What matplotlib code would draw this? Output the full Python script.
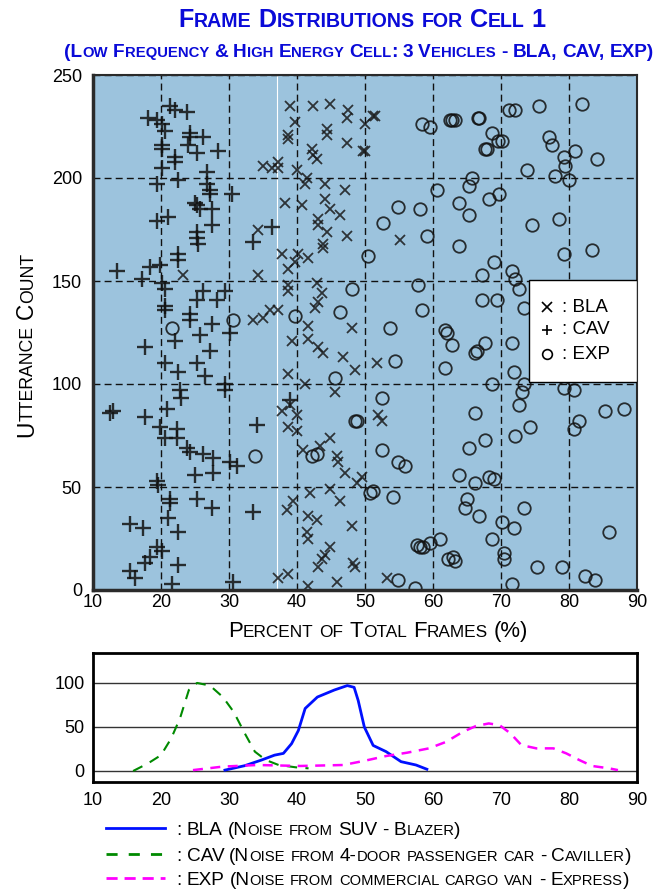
import matplotlib
matplotlib.use('Agg')
import matplotlib.pyplot as plt
from matplotlib import font_manager as fm
from matplotlib.transforms import IdentityTransform
from matplotlib.patches import Rectangle

# ---- data ----
CAV_X = [21.3, 22, 23.8, 18.1, 19.4, 20.1, 20.6, 24.3, 24.3, 26.2, 24, 20.1, 20.1, 25.3, 28.4,
         22.1, 22.1, 20.1, 26.8, 22.5, 19.4, 26.8, 27.2, 27.2, 30.4, 25, 25.3, 25.7, 27.5, 21,
         19.4, 27.5, 25.3, 25.3, 25.5, 33.5, 36.3, 22.5, 22.5, 19.9, 18.4, 13.5, 17.2, 20.1, 20.6,
         26.2, 25.3, 28.2, 29.4, 20.6, 20.6, 24.3, 24.3, 27.5, 22, 25.7, 30.1, 17.6, 20.6,
         22.5, 25.3, 27.2, 26.5, 29.4, 29.4, 22.8, 23, 13, 12.5, 20.9, 17.6, 19.9, 22.4, 20.6,
         22.4, 23.8, 24.3, 26.2, 27.6, 30.1, 31.2, 34.1, 39, 27.6, 25, 19.4, 19.6, 21.3, 21.3,
         25.3, 27.5, 33.5, 21, 15.4, 17.4, 22.5, 19.4, 20.1, 18.4, 17.6, 15.4, 16.2, 22.5, 21.6, 30.6]
CAV_Y = [235, 233, 232, 229, 228, 226, 223, 222, 220, 220, 216, 216, 214, 212, 213,
         210, 208, 205, 203, 199, 197, 197, 194, 192, 192, 188, 187, 185, 185, 181,
         179, 177, 174, 171, 168, 169, 176, 163, 160, 158, 157, 155, 151, 149, 146,
         145, 141, 141, 145, 138, 136, 134, 131, 129, 121, 124, 125, 118, 110,
         106, 110, 116, 104, 100, 97, 97, 93, 87, 86, 88, 84, 79, 78, 74,
         74, 69, 67, 66, 64, 62, 60, 80, 92, 57, 56, 53, 51, 44, 42,
         44, 40, 38, 35, 32, 30, 28, 21, 19, 16, 13, 9, 6, 12, 3, 4]

BLA_X = [35, 36.3, 34.3, 34.3, 23.2, 33.5, 35, 36, 39, 42.4, 44.9, 47.5, 47.4, 51.5, 39.7,
         38.7, 38.7, 44.4, 44.4, 50, 47.4, 42.2, 42.4, 42.9, 50, 37.2, 37.2, 40, 41.5, 41.2,
         44.1, 44.1, 47, 38.2, 40.7, 44.9, 46.3, 43.1, 43.1, 44.4, 47.4, 55.1, 43.8, 43.8, 37.8,
         40.1, 41.6, 39.7, 38.7, 38.7, 38.7, 42.9, 43.7, 43.1, 42.6, 37.2, 41.6, 48.1,
         39.3, 41.6, 43.1, 43.8, 46.8, 48.5, 51.8, 38.7, 41.2, 45.6, 39, 37.8, 40, 38.7, 40,
         52.5, 51.9, 44.9, 43.4, 40.9, 45.9, 46, 47.1, 48.8, 49.6, 41.9, 44.9, 46.3, 39.4, 38.5,
         41.6, 42.9, 41.5, 41.6, 48.1, 44.9, 44.1, 43.7, 43.1, 48.2, 48.5, 38.7, 45.9, 41.6,
         53.2, 37.2, 49.7, 51.2]
BLA_Y = [206, 205, 175, 153, 153, 131, 132, 136, 235, 235, 236, 233, 229, 230, 227,
         221, 219, 224, 221, 226, 217, 214, 211, 209, 213, 208, 205, 204, 200, 197,
         197, 190, 194, 188, 187, 185, 182, 180, 177, 174, 172, 170, 168, 166, 163,
         163, 161, 159, 156, 148, 145, 149, 144, 140, 137, 136, 128, 127,
         121, 122, 118, 115, 113, 107, 110, 105, 100, 96, 90, 87, 85, 79, 77,
         82, 85, 74, 70, 68, 65, 62, 57, 52, 55, 47, 49, 43, 43, 39,
         36, 34, 28, 25, 31, 21, 17, 15, 11, 13, 11, 8, 4, 2,
         6, 6, 213, 230]

EXP_X = [58.4, 59.6, 62.8, 54.9, 58.1, 52.6, 59.1, 50.4, 60.6, 57.8, 58.4, 48.1, 46.3, 39.7,
         53.7, 61.8, 63.2, 66.8, 71.2, 72.1, 75.6, 81.9, 68.7, 70.1, 67.6, 77, 77.5, 79.3, 80.9,
         84.1, 79.4, 73.8, 77.9, 80, 65.7, 65.3, 63.8, 68.2, 69.7, 65.3, 78.5, 74.6, 63.8, 79.3,
         83.4, 69, 71.6, 67.2, 72.1, 67.2, 69.4, 72.6, 73.4, 67.6, 71.6, 66.2, 71.9, 68.7, 73.4,
         73.1, 72.6, 79.3, 80.7, 85.3, 88.1, 81.5, 80.7, 74.3, 72.1, 66.2, 67.6, 65.3, 63.8,
         66.2, 68.2, 69, 65, 64.7, 66.8, 70.1, 71.9, 73.4, 68.7, 70.4, 70.4, 75.3, 79, 82.4,
         83.8, 85.9, 71.6, 63.2, 54.4, 45.6, 52.5, 48.5, 52.5, 54.9, 55.9, 51.2, 50.7, 54.1,
         42.9, 42.2, 57.6, 58.5, 61, 62.2, 54.9, 57.4, 62, 62.8, 66.5, 61.8, 48.8, 58.1, 59.6,
         62.9, 33.8, 30.6, 21.6, 62.5, 66.6, 67.9, 69.6]
EXP_Y = [226, 225, 228, 186, 185, 178, 172, 162, 194, 148, 136, 146, 135, 133,
         127, 126, 228, 229, 233, 233, 235, 236, 222, 218, 214, 220, 216, 210, 213,
         209, 206, 204, 201, 199, 200, 196, 188, 190, 192, 182, 180, 177, 167, 163,
         165, 159, 155, 153, 151, 141, 141, 146, 137, 120, 120, 115, 106, 100, 100,
         96, 90, 98, 97, 87, 88, 82, 78, 79, 75, 86, 73, 69, 56,
         52, 55, 54, 44, 40, 36, 33, 30, 40, 25, 18, 15, 11, 11, 7,
         5, 28, 3, 14, 111, 103, 93, 82, 68, 62, 60, 48, 47, 45,
         66, 65, 22, 21, 25, 15, 5, 1, 125, 119, 116, 108, 82, 21, 23,
         16, 65, 131, 127, 228, 229, 214, 218]

# distribution curves (bottom panel)
BLA_DX = [29.4, 32.3, 34.8, 36.7, 38, 39.2, 40.2, 41.2, 43, 45.5, 47.4, 48.4, 49, 49.9, 51.2,
          53.1, 55.3, 57.5, 59.1]
BLA_DY = [1, 6, 12.5, 18, 20, 31, 46, 71, 84, 92, 97, 95, 80, 50, 29, 22, 10.6, 6.8, 2]
CAV_DX = [15.9, 18.1, 20, 21.5, 22.8, 24.1, 25.3, 27.2, 29.1, 30.7, 32.3, 33.8, 35.4, 37.3,
          39.8, 41.7]
CAV_DY = [0, 8.7, 18, 37, 60, 92, 100, 97, 84, 67, 43, 22, 12.5, 6.8, 4.2, 3]
EXP_DX = [24.7, 29.1, 34.2, 40.5, 46.8, 50, 53.1, 56.2, 59.4, 61.9, 64.4, 66.3, 68.2, 69.8,
          71.4, 73, 75.2, 77.7, 79.6, 81.5, 83.4, 85.9, 87.2]
EXP_DY = [1, 5, 6.8, 5.7, 6.8, 11.7, 17, 20.8, 25.7, 33, 44.5, 51, 54, 52, 42.6, 29.4,
          25.7, 25.7, 20, 12.5, 5.7, 3, 1]

X_TICKS = [10, 20, 30, 40, 50, 60, 70, 80, 90]
Y_TICKS = [0, 50, 100, 150, 200, 250]
D_TICKS = [0, 50, 100]

TITLE = 'Frame Distributions for Cell 1'
SUBTITLE = '(Low Frequency & High Energy Cell: 3 Vehicles - BLA, CAV, EXP)'
XLABEL = 'Percent of Total Frames (%)'
YLABEL = 'Utterance Count'
LEGEND = [': BLA (Noise from SUV - Blazer)',
          ': CAV (Noise from 4-door passenger car - Caviller)',
          ': EXP (Noise from commercial cargo van - Express)']

names = {f.name for f in fm.fontManager.ttflist}
NARROW = 'Liberation Sans Narrow' if 'Liberation Sans Narrow' in names else 'Liberation Sans'
SANS = 'Liberation Sans'
plt.rcParams['font.family'] = [NARROW, 'DejaVu Sans']

W, H = 670, 892
fig = plt.figure(figsize=(W / 100, H / 100), dpi=100, facecolor='white')
renderer = fig.canvas.get_renderer()
BLUE = '#0a0ad8'


def text_width(s, size, family, weight):
    t = fig.text(0, 0, s, fontsize=size, family=family, weight=weight)
    w = t.get_window_extent(renderer).width
    t.remove()
    return w


def smallcaps(s, x, y, size, family, weight='normal', color='black',
              rotation=0, width=None, ha='center', ratio=0.78):
    """Draw fake small caps text; x, y in image pixels (y from top, baseline)."""
    runs = []
    for ch in s:
        kind = 'sp' if ch == ' ' else ('lo' if ch.islower() else 'up')
        if runs and runs[-1][0] == kind:
            runs[-1][1] += ch
        else:
            runs.append([kind, ch])

    def layout(sz):
        sp = text_width('x x', sz, family, weight) - text_width('xx', sz, family, weight)
        out = []
        for kind, txt in runs:
            if kind == 'sp':
                out.append((None, sz, sp * len(txt)))
            elif kind == 'lo':
                out.append((txt.upper(), sz * ratio,
                            text_width(txt.upper(), sz * ratio, family, weight)))
            else:
                out.append((txt, sz, text_width(txt, sz, family, weight)))
        return out

    parts = layout(size)
    total = sum(p[2] for p in parts)
    if width:
        size = size * width / total
        parts = layout(size)
        total = sum(p[2] for p in parts)

    if rotation:
        cur = (H - y) - total / 2 if ha == 'center' else H - y
    else:
        cur = x - total / 2 if ha == 'center' else x
    for txt, sz, w in parts:
        if txt:
            if rotation:
                fig.text(x, cur, txt, fontsize=sz, family=family, weight=weight,
                         color=color, rotation=90, rotation_mode='anchor',
                         ha='left', va='baseline', transform=IdentityTransform())
            else:
                fig.text(cur, H - y, txt, fontsize=sz, family=family, weight=weight,
                         color=color, ha='left', va='baseline',
                         transform=IdentityTransform())
        cur += w


# ---- scatter panel ----
ax = fig.add_axes([93 / W, 1 - 590 / H, 544 / W, 515 / H])
ax.set_facecolor('#9cc3dd')
ax.set_xlim(10, 90)
ax.set_ylim(0, 250)
ax.set_xticks(X_TICKS)
ax.set_yticks(Y_TICKS)
ax.tick_params(length=0, labelsize=13)
ax.tick_params(axis='x', pad=3)
ax.tick_params(axis='y', pad=8)
ax.grid(True, color='#111111', ls=(0, (5, 3)), lw=1)
ax.axvline(37, color='white', lw=0.8, zorder=1.5)
for sp in ax.spines.values():
    sp.set_color('#2a2a2a')
    sp.set_linewidth(1.5)
ax.spines['left'].set_linewidth(2.5)
ax.spines['bottom'].set_linewidth(2.5)

ax.plot(CAV_X, CAV_Y, ls='none', marker='+', ms=11.5, mew=1.7, color='#111111', alpha=0.85)
ax.plot(BLA_X, BLA_Y, ls='none', marker='x', ms=6.5, mew=1.3, color='#1a1a1a', alpha=0.85)
ax.plot(EXP_X, EXP_Y, ls='none', marker='o', ms=9, mew=1.3, mfc='none',
        mec='#111111', alpha=0.85)

# legend box inside the scatter
ax.add_patch(Rectangle((0.801, 0.404), 0.199, 0.198, transform=ax.transAxes,
                       facecolor='white', edgecolor='black', lw=1, zorder=5))
leg_items = [('x', ': BLA', 0.5495, 7), ('+', ': CAV', 0.505, 6.5), ('o', ': EXP', 0.458, 7)]
for mk, lbl, yy, ms in leg_items:
    ax.plot([0.835], [yy], transform=ax.transAxes, marker=mk, ms=ms, mew=1.2,
            mfc='none', color='black', zorder=6, clip_on=False)
    ax.text(0.862, yy, lbl, transform=ax.transAxes, fontsize=13.5, family=SANS,
            va='center', ha='left', zorder=6)

# ---- distribution panel ----
ax2 = fig.add_axes([93 / W, 1 - 782 / H, 544 / W, 129 / H])
ax2.set_xlim(10, 90)
ax2.set_ylim(-12.5, 134)
ax2.set_xticks(X_TICKS)
ax2.set_yticks(D_TICKS)
ax2.tick_params(length=0, labelsize=13)
ax2.tick_params(axis='x', pad=7)
ax2.tick_params(axis='y', pad=6)
ax2.grid(True, axis='y', color='#333333', lw=1)
for sp in ax2.spines.values():
    sp.set_color('black')
    sp.set_linewidth(2)

ax2.plot(BLA_DX, BLA_DY, color='#0010ff', lw=2, zorder=3)
ax2.plot(CAV_DX, CAV_DY, color='#008a00', lw=1.5, ls=(0, (5, 4)), zorder=3)
ax2.plot(EXP_DX, EXP_DY, color='#ff00ff', lw=1.8, ls=(0, (4, 3)), zorder=3)

# ---- texts ----
smallcaps(TITLE, 362, 27, 19, NARROW, weight='bold', color=BLUE, width=369)
smallcaps(SUBTITLE, 359, 57, 13, NARROW, weight='bold', color=BLUE, width=592)
smallcaps(XLABEL, 378, 637, 13, SANS, width=300)
smallcaps(YLABEL, 33, 345, 13, SANS, rotation=90, width=184)

# bottom legend
leg_lines = [('#0010ff', '-', 828), ('#008a00', (0, (4, 4)), 854), ('#ff00ff', (0, (4, 2.5)), 878)]
leg_w = [285, 456, 454]
for (col, ls, yy), lbl, ww in zip(leg_lines, LEGEND, leg_w):
    fig.add_artist(plt.Line2D([106 / W, 165 / W], [1 - yy / H, 1 - yy / H], color=col,
                              ls=ls, lw=2, transform=fig.transFigure))
    smallcaps(lbl, 176, yy + 7, 12, SANS, ha='left', width=ww)

fig.savefig('out.png', dpi=100)
